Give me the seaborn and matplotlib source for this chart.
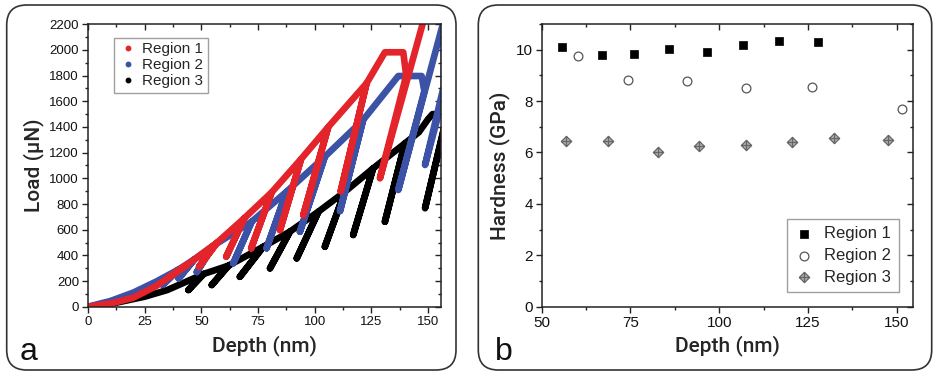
import numpy as np
import pandas as pd
import matplotlib
matplotlib.use("Agg")
import matplotlib.pyplot as plt
import seaborn as sns
from matplotlib.lines import Line2D
from matplotlib.patches import FancyBboxPatch
from matplotlib.path import Path
from matplotlib.ticker import MultipleLocator

sns.set_theme(style="white")
plt.rcParams["font.family"] = ["Liberation Sans", "DejaVu Sans"]

# ---- panel a: multi-cycle load/depth curves ----
# each region: start of loading curve, then cycles (peak -> unload end -> back to peak),
# then the hold / last unload at the deepest part
red_start_depth = [0, 10, 20, 30]
red_start_load = [0, 25, 70, 160]
red_peak_depth = [44, 57, 69, 81, 94, 106, 122.9]
red_peak_load = [330, 500, 690, 890, 1150, 1400, 1740]
red_low_depth = [36, 49, 61, 72, 84.7, 95, 111.5]
red_low_load = [234, 312, 390, 455, 597, 714, 900]
red_tail_depth = [131, 139.1, 140.4, 128.8, 149]
red_tail_load = [1982, 1982, 1800, 1000, 2290]

blue_start_depth = [0, 10, 20, 30]
blue_start_load = [0, 45, 110, 195]
blue_peak_depth = [40, 47, 55.3, 72.2, 87.6, 104.5, 121.4]
blue_peak_load = [290, 370, 475, 662, 896, 1169, 1455]
blue_low_depth = [33, 40, 48, 64.1, 78.8, 93.5, 111.2]
blue_low_load = [170, 220, 270, 338, 455, 584, 745]
blue_tail_depth = [136.9, 147.2, 148.4, 136.9, 157, 157, 148.7, 158]
blue_tail_load = [1797, 1797, 1680, 909, 2230, 1720, 1104, 1720]

black_start_depth = [0, 10, 25, 35, 44]
black_start_load = [0, 22, 78, 130, 200]
black_peak_depth = [51, 62, 77.3, 89.1, 101.7, 113.3, 125.8, 139.8]
black_peak_load = [255, 320, 467, 585, 741, 895, 1078, 1272]
black_low_depth = [44.3, 54.6, 67, 80.3, 92.1, 104.5, 117, 131]
black_low_load = [130, 169, 233, 299, 377, 467, 559, 662]
black_tail_depth = [146, 150, 152, 158.5, 148.7, 158]
black_tail_load = [1360, 1460, 1500, 1500, 767, 1450]

# ---- panel b: hardness vs depth ----
r1_depth = [55.6, 66.9, 76.1, 85.9, 96.6, 106.7, 116.8, 127.7]
r1_hard = [10.10, 9.78, 9.84, 10.01, 9.90, 10.19, 10.34, 10.28]
r2_depth = [60.1, 74.2, 90.8, 107.5, 126.2, 151.6]
r2_hard = [9.77, 8.83, 8.78, 8.52, 8.54, 7.71]
r3_depth = [56.9, 68.8, 82.9, 94.3, 107.6, 120.5, 132.4, 147.6]
r3_hard = [6.46, 6.45, 6.00, 6.26, 6.28, 6.39, 6.57, 6.50]

labels = ["Region 1", "Region 2", "Region 3"]
colors_a = ["#e3242b", "#3b52a6", "#000000"]


def build_path(sd, sl, pd_, pl, ld, ll, td, tl):
    # walk the loading curve: peak -> unload end -> reload to peak -> next peak
    d, l = list(sd), list(sl)
    for i in range(len(pd_)):
        d += [pd_[i], ld[i], pd_[i]]
        l += [pl[i], ll[i], pl[i]]
    d += list(td)
    l += list(tl)
    return pd.DataFrame({"depth": d, "load": l})


paths = [
    build_path(red_start_depth, red_start_load, red_peak_depth, red_peak_load,
               red_low_depth, red_low_load, red_tail_depth, red_tail_load),
    build_path(blue_start_depth, blue_start_load, blue_peak_depth, blue_peak_load,
               blue_low_depth, blue_low_load, blue_tail_depth, blue_tail_load),
    build_path(black_start_depth, black_start_load, black_peak_depth, black_peak_load,
               black_low_depth, black_low_load, black_tail_depth, black_tail_load),
]

label_font = dict(fontsize=15, family=["Roboto", "Liberation Sans", "DejaVu Sans"],
                  fontweight="medium")

fig = plt.figure(figsize=(9.36, 3.76), dpi=100)
ax_a = fig.add_axes([0.0940, 0.1843, 0.3768, 0.7511])
ax_b = fig.add_axes([0.5787, 0.1843, 0.3964, 0.7520])

# rounded frames around each panel
for x0, w in [(0.067, 4.493), (4.783, 4.534)]:
    fig.patches.append(FancyBboxPatch((x0, 0.06), w, 3.65,
                       boxstyle="round,pad=0,rounding_size=0.2",
                       transform=fig.dpi_scale_trans, fill=False,
                       edgecolor="#333333", linewidth=1.2))

# draw black first so red / blue sit on top like in the figure
for df, c in zip(paths[::-1], colors_a[::-1]):
    sns.lineplot(data=df, x="depth", y="load", sort=False, estimator=None,
                 color=c, linewidth=4.8, ax=ax_a, legend=False,
                 solid_joinstyle="round", solid_capstyle="round")

ax_a.set_xlim(0, 155.6)
ax_a.set_ylim(0, 2200)
ax_a.xaxis.set_major_locator(MultipleLocator(25))
ax_a.xaxis.set_minor_locator(MultipleLocator(12.5))
ax_a.yaxis.set_major_locator(MultipleLocator(200))
ax_a.yaxis.set_minor_locator(MultipleLocator(100))
ax_a.set_xlabel("Depth (nm)", labelpad=5, **label_font)
ax_a.set_ylabel("Load (\u03bcN)", labelpad=4, **label_font)

handles_a = [Line2D([], [], marker="o", ls="", color=c, markersize=3.2) for c in colors_a]
leg_a = ax_a.legend(handles_a, labels, loc="upper left", bbox_to_anchor=(0.075, 0.952),
                    fontsize=11, frameon=True, fancybox=False, edgecolor="#888888",
                    handletextpad=0.3, handlelength=1.2, borderpad=0.3,
                    labelspacing=0.12, borderaxespad=0)
leg_a.get_frame().set_linewidth(1.0)

# panel b
diamond_plus = Path(
    [(0, 1), (1, 0), (0, -1), (-1, 0), (0, 1), (0, 1), (0, -1), (-1, 0), (1, 0)],
    [Path.MOVETO, Path.LINETO, Path.LINETO, Path.LINETO, Path.CLOSEPOLY,
     Path.MOVETO, Path.LINETO, Path.MOVETO, Path.LINETO])

sns.scatterplot(x=r1_depth, y=r1_hard, marker="s", color="black", edgecolor="black",
                s=30, linewidth=0.5, label=labels[0], ax=ax_b)
sns.scatterplot(x=r2_depth, y=r2_hard, marker="o", color="white", edgecolor="#555555",
                s=40, linewidth=0.9, label=labels[1], ax=ax_b)
sns.scatterplot(x=r3_depth, y=r3_hard, marker=diamond_plus, color="#b0b0b0",
                edgecolor="#666666", s=55, linewidth=0.9, label=labels[2], ax=ax_b)

ax_b.set_xlim(50, 154.5)
ax_b.set_ylim(0, 11)
ax_b.xaxis.set_major_locator(MultipleLocator(25))
ax_b.xaxis.set_minor_locator(MultipleLocator(12.5))
ax_b.yaxis.set_major_locator(MultipleLocator(2))
ax_b.yaxis.set_minor_locator(MultipleLocator(1))
ax_b.set_xlabel("Depth (nm)", labelpad=4, **label_font)
ax_b.set_ylabel("Hardness (GPa)", labelpad=4, **label_font)
leg_b = ax_b.legend(loc="lower right", bbox_to_anchor=(0.963, 0.051), fontsize=12,
                    frameon=True, fancybox=False, edgecolor="#888888",
                    handletextpad=0.6, handlelength=1.2, borderpad=0.45,
                    labelspacing=0.4, borderaxespad=0)
leg_b.get_frame().set_linewidth(1.0)

for ax, fs in [(ax_a, 9.5), (ax_b, 11)]:
    for sp in ax.spines.values():
        sp.set_color("#222222")
        sp.set_linewidth(1.1)
    ax.tick_params(which="both", direction="out", color="#222222", width=1.0,
                   bottom=True, left=True, labelsize=fs, labelcolor="#111111", pad=2)
    ax.tick_params(which="major", length=4.5)
    ax.tick_params(which="minor", length=2.5)
    # inward ticks on the top and right sides
    top = ax.secondary_xaxis("top")
    right = ax.secondary_yaxis("right")
    top.xaxis.set_major_locator(ax.xaxis.get_major_locator())
    top.xaxis.set_minor_locator(ax.xaxis.get_minor_locator())
    right.yaxis.set_major_locator(ax.yaxis.get_major_locator())
    right.yaxis.set_minor_locator(ax.yaxis.get_minor_locator())
    for sec in (top, right):
        sec.tick_params(which="both", direction="in", color="#222222", width=1.0,
                        top=True, right=True, labeltop=False, labelright=False)
        sec.tick_params(which="major", length=4.5)
        sec.tick_params(which="minor", length=2.5)
        for sp in sec.spines.values():
            sp.set_visible(False)

fig.text(0.021, 0.043, "a", fontsize=23, color="#111111")
fig.text(0.529, 0.043, "b", fontsize=23, color="#111111")

fig.savefig("out.png", dpi=100)
